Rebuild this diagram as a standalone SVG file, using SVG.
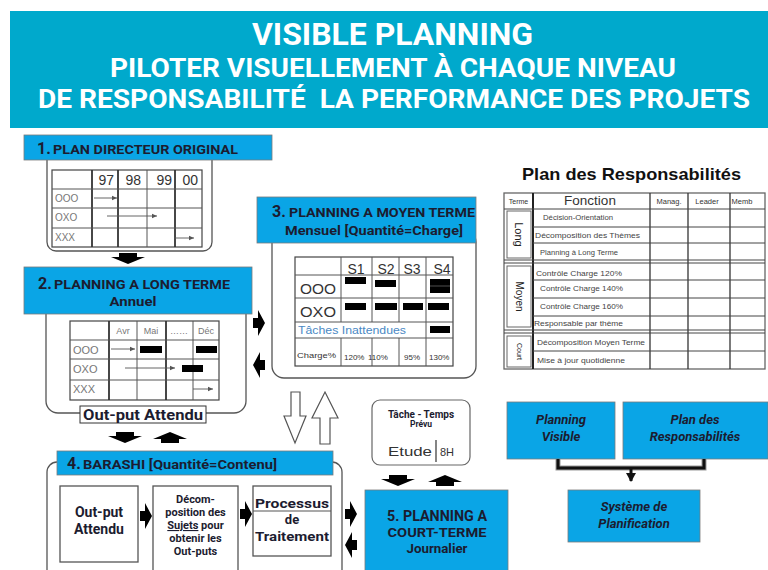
<svg xmlns="http://www.w3.org/2000/svg" width="768" height="570" viewBox="0 0 768 570">
<style>
.lbl{fill:#0AA5E6;stroke:#7a7a7a;stroke-width:0.8}
.box{fill:#fff;stroke:#555;stroke-width:1.3}
.tb{fill:none;stroke:#444;stroke-width:1.2}
.thk{stroke:#333;stroke-width:1.8}
.thn{stroke:#555;stroke-width:1}
.lt{font-family:Roboto,'Liberation Sans',sans-serif;font-weight:700;fill:#1c1c30}
.hd{font-family:Roboto,'Liberation Sans',sans-serif;font-weight:700;fill:#fff}
.sm{font-family:'Liberation Sans',Arial,sans-serif;fill:#333}
.gr{font-family:'Liberation Sans',Arial,sans-serif;fill:#777}
.rt{font-family:'Liberation Sans',Arial,sans-serif;fill:#444;font-size:7px}
.bar{fill:#000}
.al{stroke:#555;stroke-width:0.9;fill:none;marker-end:url(#ah)}
.blk{fill:#000}
.hol{fill:#fff;stroke:#555;stroke-width:1.2}
.it{font-family:Roboto,'Liberation Sans',sans-serif;font-weight:700;font-style:italic;fill:#1c1c30;font-size:13px}
</style>
<defs>
<marker id="ah" markerWidth="6" markerHeight="6" refX="5" refY="3" orient="auto" markerUnits="userSpaceOnUse"><path d="M0,0.8 L5,3 L0,5.2 Z" fill="#555"/></marker>
<marker id="ahb" markerWidth="10" markerHeight="10" refX="8" refY="5" orient="auto" markerUnits="userSpaceOnUse"><path d="M0,0 L9,5 L0,10 Z" fill="#111"/></marker>
<path id="ra" d="M0,8 H5 V0 L12,13 L5,26 V18 H0 Z"/>
<path id="la" d="M12,8 H7 V0 L0,13 L7,26 V18 H12 Z"/>
<path id="da" d="M-9,0 H9 V4 H17 L0,11 L-17,4 H-9 Z"/>
<path id="ua" d="M-9,11 H9 V7 H17 L0,0 L-17,7 H-9 Z"/>
</defs>
<rect width="768" height="570" fill="#fff"/>

<g id="header">
<rect x="10" y="11" width="758" height="117" fill="#00A9CC"/>
<text class="hd" x="392.5" y="45" font-size="32" text-anchor="middle" textLength="281" lengthAdjust="spacingAndGlyphs">VISIBLE PLANNING</text>
<text class="hd" x="393" y="77" font-size="26" text-anchor="middle" textLength="566" lengthAdjust="spacingAndGlyphs">PILOTER VISUELLEMENT À CHAQUE NIVEAU</text>
<text class="hd" x="394" y="108" font-size="26" text-anchor="middle" textLength="712" lengthAdjust="spacingAndGlyphs">DE RESPONSABILITÉ&#160; LA PERFORMANCE DES PROJETS</text>
</g>

<g id="plan-directeur">
<rect class="box" x="47" y="150" width="165" height="101" rx="9"/>
<rect class="lbl" x="24" y="135" width="248" height="25"/>
<text class="lt" x="37" y="154" font-size="16">1.</text>
<text class="lt" x="53" y="154" font-size="12.5" textLength="185" lengthAdjust="spacingAndGlyphs">PLAN DIRECTEUR ORIGINAL</text>
<rect class="tb" x="52" y="170" width="150" height="77"/>
<line class="thk" x1="92" y1="170" x2="92" y2="247"/>
<line class="thk" x1="118" y1="170" x2="118" y2="247"/>
<line class="thn" x1="147" y1="170" x2="147" y2="247"/>
<line class="thk" x1="175" y1="170" x2="175" y2="247"/>
<line class="thn" x1="52" y1="189" x2="202" y2="189"/>
<line class="thn" x1="52" y1="208" x2="202" y2="208"/>
<line class="thn" x1="52" y1="228" x2="202" y2="228"/>
<text class="sm" x="114" y="185" font-size="14" text-anchor="end">97</text>
<text class="sm" x="141" y="185" font-size="14" text-anchor="end">98</text>
<text class="sm" x="172" y="185" font-size="14" text-anchor="end">99</text>
<text class="sm" x="198" y="185" font-size="14" text-anchor="end">00</text>
<text class="gr" x="55" y="202" font-size="10">OOO</text>
<text class="gr" x="55" y="221" font-size="10">OXO</text>
<text class="gr" x="55" y="241" font-size="10">XXX</text>
<line class="al" x1="94" y1="198" x2="117" y2="198"/>
<line class="al" x1="107" y1="216" x2="157" y2="216"/>
<line class="al" x1="174" y1="238" x2="194" y2="238"/>
</g>

<g id="planning-long-terme">
<rect class="box" x="46" y="300" width="200" height="113" rx="12"/>
<rect class="lbl" x="24" y="267" width="228" height="47"/>
<text class="lt" x="38" y="289" font-size="16">2.</text>
<text class="lt" x="54" y="289" font-size="12.5" textLength="176" lengthAdjust="spacingAndGlyphs">PLANNING A LONG TERME</text>
<text class="lt" x="133" y="306" font-size="13" text-anchor="middle" textLength="47" lengthAdjust="spacingAndGlyphs">Annuel</text>
<rect class="tb" x="70" y="321" width="149" height="79"/>
<line class="thk" x1="109" y1="321" x2="109" y2="400"/>
<line class="thn" x1="137" y1="321" x2="137" y2="400"/>
<line class="thk" x1="166" y1="321" x2="166" y2="400"/>
<line class="thn" x1="193" y1="321" x2="193" y2="400"/>
<line class="thn" x1="70" y1="340" x2="219" y2="340"/>
<line class="thn" x1="70" y1="359" x2="219" y2="359"/>
<line class="thn" x1="70" y1="380" x2="219" y2="380"/>
<text class="gr" x="123" y="334" font-size="9" text-anchor="middle">Avr</text>
<text class="gr" x="151" y="334" font-size="9" text-anchor="middle">Mai</text>
<text class="gr" x="179" y="334" font-size="9" text-anchor="middle">……</text>
<text class="gr" x="206" y="334" font-size="9" text-anchor="middle">Déc</text>
<text class="gr" x="73" y="354" font-size="11">OOO</text>
<text class="gr" x="73" y="373" font-size="11">OXO</text>
<text class="gr" x="73" y="393" font-size="11">XXX</text>
<line class="al" x1="111" y1="349" x2="135" y2="349"/>
<rect class="bar" x="140" y="346" width="22" height="7"/>
<rect class="bar" x="196" y="346" width="21" height="7"/>
<line class="al" x1="125" y1="368" x2="175" y2="368"/>
<rect class="bar" x="182" y="365" width="21" height="7"/>
<line class="al" x1="193" y1="389" x2="213" y2="389"/>
<rect x="80" y="406" width="126" height="17" fill="#fff" stroke="#333" stroke-width="1"/>
<text class="lt" x="143" y="420" font-size="14" text-anchor="middle" textLength="120" lengthAdjust="spacingAndGlyphs" fill="#222">Out-put Attendu</text>
</g>

<g id="planning-moyen-terme">
<rect class="box" x="272" y="230" width="204" height="148" rx="12"/>
<rect class="lbl" x="257" y="197" width="219" height="46"/>
<text class="lt" x="272" y="217" font-size="16">3.</text>
<text class="lt" x="289" y="217" font-size="12.5" textLength="186" lengthAdjust="spacingAndGlyphs">PLANNING A MOYEN TERME</text>
<text class="lt" x="285" y="235" font-size="12.5" textLength="178" lengthAdjust="spacingAndGlyphs">Mensuel [Quantité=Charge]</text>
<rect class="tb" x="295" y="257" width="158" height="109"/>
<line class="thn" x1="341" y1="257" x2="341" y2="322"/>
<line class="thn" x1="372" y1="257" x2="372" y2="322"/>
<line class="thn" x1="399" y1="257" x2="399" y2="322"/>
<line class="thn" x1="341" y1="338" x2="341" y2="366"/>
<line class="thn" x1="372" y1="338" x2="372" y2="366"/>
<line class="thn" x1="399" y1="338" x2="399" y2="366"/>
<line class="thn" x1="426" y1="257" x2="426" y2="366"/>
<line class="thn" x1="295" y1="275" x2="453" y2="275"/>
<line class="thn" x1="295" y1="298" x2="453" y2="298"/>
<line class="thn" x1="295" y1="322" x2="453" y2="322"/>
<line class="thn" x1="295" y1="338" x2="453" y2="338"/>
<text class="sm" x="356" y="274" font-size="14" text-anchor="middle" fill="#111">S1</text>
<text class="sm" x="386" y="274" font-size="14" text-anchor="middle" fill="#111">S2</text>
<text class="sm" x="412" y="274" font-size="14" text-anchor="middle" fill="#111">S3</text>
<text class="sm" x="442" y="274" font-size="14" text-anchor="middle" fill="#111">S4</text>
<text class="sm" x="300" y="294" font-size="14" fill="#111" textLength="36" lengthAdjust="spacingAndGlyphs">OOO</text>
<text class="sm" x="300" y="317" font-size="14" fill="#111" textLength="36" lengthAdjust="spacingAndGlyphs">OXO</text>
<rect class="bar" x="345" y="277" width="21" height="7"/>
<rect class="bar" x="375" y="280" width="21" height="7"/>
<rect class="bar" x="430" y="279" width="20" height="14"/>
<line x1="430" y1="286" x2="450" y2="286" stroke="#666" stroke-width="0.8"/>
<rect class="bar" x="345" y="303" width="21" height="7"/>
<rect class="bar" x="375" y="303" width="22" height="7"/>
<rect class="bar" x="403" y="303" width="20" height="7"/>
<rect class="bar" x="428" y="303" width="21" height="7"/>
<text x="298" y="334" font-family="'Liberation Sans',Arial,sans-serif" font-size="10.5" fill="#4a88c4" textLength="108" lengthAdjust="spacingAndGlyphs">Tâches Inattendues</text>
<rect class="bar" x="430" y="326" width="20" height="7"/>
<text class="sm" x="297" y="358" font-size="8" textLength="39" lengthAdjust="spacingAndGlyphs">Charge%</text>
<text class="sm" x="344" y="360" font-size="8">120%</text>
<text class="sm" x="368" y="360" font-size="8">110%</text>
<text class="sm" x="404" y="360" font-size="8">95%</text>
<text class="sm" x="429" y="360" font-size="8">130%</text>
</g>

<g id="barashi">
<rect class="box" x="47" y="462" width="295" height="118" rx="10"/>
<rect class="lbl" x="57" y="451" width="276" height="24"/>
<text class="lt" x="67" y="469" font-size="16">4.</text>
<text class="lt" x="83" y="469" font-size="12.5" textLength="194" lengthAdjust="spacingAndGlyphs">BARASHI [Quantité=Contenu]</text>
<g id="barashi-output">
<rect x="60" y="486" width="78" height="76" fill="#fff" stroke="#555" stroke-width="1.3"/>
<text class="lt" x="99" y="517" font-size="14" text-anchor="middle" fill="#222">Out-put</text>
<text class="lt" x="99" y="534" font-size="14" text-anchor="middle" fill="#222">Attendu</text>
</g>
<g id="barashi-decomposition">
<rect x="153" y="486" width="85" height="95" fill="#fff" stroke="#555" stroke-width="1.3"/>
<text class="lt" x="195.5" y="503" font-size="11" text-anchor="middle" fill="#222">Décom-</text>
<text class="lt" x="195.5" y="516" font-size="11" text-anchor="middle" fill="#222">position des</text>
<text class="lt" x="195.5" y="529" font-size="11" text-anchor="middle" fill="#222"><tspan text-decoration="underline">Sujets</tspan> pour</text>
<text class="lt" x="195.5" y="542" font-size="11" text-anchor="middle" fill="#222">obtenir les</text>
<text class="lt" x="195.5" y="555" font-size="11" text-anchor="middle" fill="#222">Out-puts</text>
</g>
<g id="barashi-processus">
<rect x="253" y="486" width="78" height="70" fill="#fff" stroke="#555" stroke-width="1.3"/>
<line x1="253" y1="511" x2="331" y2="511" stroke="#555" stroke-width="1.2"/>
<text class="lt" x="292" y="508" font-size="13" text-anchor="middle" fill="#222" textLength="74" lengthAdjust="spacingAndGlyphs">Processus</text>
<text class="lt" x="292" y="524" font-size="13" text-anchor="middle" fill="#222">de</text>
<text class="lt" x="292" y="541" font-size="13" text-anchor="middle" fill="#222" textLength="74" lengthAdjust="spacingAndGlyphs">Traitement</text>
</g>
</g>

<g id="tache-temps">
<rect x="372" y="400" width="98" height="65" rx="8" fill="#fff" stroke="#666" stroke-width="1.2"/>
<text class="lt" x="421" y="418" font-size="10" text-anchor="middle" fill="#333">Tâche - Temps</text>
<text class="lt" x="421" y="427" font-size="8.5" text-anchor="middle" fill="#333">Prévu</text>
<text class="sm" x="388" y="456" font-size="13" fill="#222" textLength="44" lengthAdjust="spacingAndGlyphs">Etude</text>
<line x1="436" y1="440" x2="436" y2="462" stroke="#333" stroke-width="1.2"/>
<text class="sm" x="440" y="456" font-size="11" fill="#222">8H</text>
</g>

<g id="planning-court-terme">
<rect class="lbl" x="365" y="490" width="143" height="90"/>
<text class="lt" x="437" y="521" font-size="14" text-anchor="middle" textLength="100" lengthAdjust="spacingAndGlyphs">5. PLANNING A</text>
<text class="lt" x="437" y="537" font-size="13" text-anchor="middle" textLength="99" lengthAdjust="spacingAndGlyphs">COURT-TERME</text>
<text class="lt" x="437" y="553" font-size="13" text-anchor="middle" textLength="61" lengthAdjust="spacingAndGlyphs">Journalier</text>
</g>

<g id="plan-responsabilites">
<text x="631.5" y="180" font-family="'Liberation Sans',Arial,sans-serif" font-weight="700" font-size="17" fill="#111" text-anchor="middle" textLength="219" lengthAdjust="spacingAndGlyphs">Plan des Responsabilités</text>
<rect x="504" y="193" width="261" height="176" fill="#fff" stroke="#666" stroke-width="1.3"/>
<line x1="533" y1="193" x2="533" y2="369" stroke="#222" stroke-width="2"/>
<line x1="650" y1="193" x2="650" y2="369" stroke="#333" stroke-width="1.3"/>
<line x1="688" y1="193" x2="688" y2="369" stroke="#333" stroke-width="1.3"/>
<line x1="730" y1="193" x2="730" y2="369" stroke="#333" stroke-width="1.3"/>
<g stroke="#444" stroke-width="1">
<line x1="504" y1="209" x2="765" y2="209"/>
<line x1="533" y1="227" x2="765" y2="227"/>
<line x1="533" y1="243" x2="765" y2="243"/>
<line x1="504" y1="260" x2="765" y2="260"/>
<line x1="504" y1="263" x2="765" y2="263"/>
<line x1="533" y1="280" x2="765" y2="280"/>
<line x1="533" y1="298" x2="765" y2="298"/>
<line x1="533" y1="316" x2="765" y2="316"/>
<line x1="504" y1="330" x2="765" y2="330"/>
<line x1="504" y1="333" x2="765" y2="333"/>
<line x1="533" y1="351" x2="765" y2="351"/>
</g>
<rect x="507" y="211" width="24" height="47" fill="#fff" stroke="#666"/>
<rect x="507" y="266" width="24" height="61" fill="#fff" stroke="#666"/>
<rect x="507" y="336" width="24" height="31" fill="#fff" stroke="#666"/>
<text x="519" y="234.5" font-family="'Liberation Sans',Arial,sans-serif" font-size="11" fill="#222" text-anchor="middle" dominant-baseline="central" transform="rotate(90 519 234.5)">Long</text>
<text x="519" y="296.5" font-family="'Liberation Sans',Arial,sans-serif" font-size="10" fill="#222" text-anchor="middle" dominant-baseline="central" transform="rotate(90 519 296.5)">Moyen</text>
<text x="519" y="351.5" font-family="'Liberation Sans',Arial,sans-serif" font-size="7" fill="#222" text-anchor="middle" dominant-baseline="central" transform="rotate(90 519 351.5)">Court</text>
<text class="sm" x="518.5" y="204" font-size="7" text-anchor="middle">Terme</text>
<text class="sm" x="590" y="205" font-size="13.5" text-anchor="middle" fill="#111">Fonction</text>
<text class="sm" x="669" y="204" font-size="7.5" text-anchor="middle">Manag.</text>
<text class="sm" x="707" y="204" font-size="7.5" text-anchor="middle">Leader</text>
<text class="sm" x="742" y="204" font-size="7.5" text-anchor="middle">Memb</text>
<text class="rt" x="543" y="220" textLength="70" lengthAdjust="spacingAndGlyphs">Décision-Orientation</text>
<text class="rt" x="535" y="238" textLength="105" lengthAdjust="spacingAndGlyphs">Décomposition des Thèmes</text>
<text class="rt" x="540" y="255" textLength="78" lengthAdjust="spacingAndGlyphs">Planning à Long Terme</text>
<text class="rt" x="536" y="276" textLength="86" lengthAdjust="spacingAndGlyphs">Contrôle Charge 120%</text>
<text class="rt" x="540" y="291" textLength="83" lengthAdjust="spacingAndGlyphs">Contrôle Charge 140%</text>
<text class="rt" x="540" y="309" textLength="83" lengthAdjust="spacingAndGlyphs">Contrôle Charge 160%</text>
<text class="rt" x="534" y="326" textLength="89" lengthAdjust="spacingAndGlyphs">Responsable par thème</text>
<text class="rt" x="537" y="345" textLength="108" lengthAdjust="spacingAndGlyphs">Décomposition Moyen Terme</text>
<text class="rt" x="537" y="363" textLength="88" lengthAdjust="spacingAndGlyphs">Mise à jour quotidienne</text>
</g>

<g id="planning-visible">
<rect class="lbl" x="507" y="402" width="108" height="57"/>
<text class="it" x="561" y="424" text-anchor="middle">Planning</text>
<text class="it" x="561" y="441" text-anchor="middle">Visible</text>
</g>
<g id="plan-des-responsabilites-box">
<rect class="lbl" x="623" y="402" width="145" height="57"/>
<text class="it" x="695" y="424" text-anchor="middle">Plan des</text>
<text class="it" x="695" y="441" text-anchor="middle">Responsabilités</text>
</g>
<g id="systeme-planification">
<rect class="lbl" x="568" y="490" width="132" height="52"/>
<text class="it" x="634" y="511" text-anchor="middle">Système de</text>
<text class="it" x="634" y="528" text-anchor="middle">Planification</text>
</g>

<g id="connectors">
<use href="#da" x="128" y="253" class="blk"/>
<use href="#ra" x="253" y="310" class="blk"/>
<use href="#la" x="253" y="352" class="blk"/>
<use href="#da" x="125" y="432" class="blk"/>
<use href="#ua" x="170" y="432" class="blk"/>
<polygon class="hol" points="291,392 300,392 300,416 306,416 295,443 284,416 291,416"/>
<polygon class="hol" points="320,444 330,444 330,418 338,418 325,392 312,418 320,418"/>
<use href="#da" x="398" y="475" class="blk"/>
<use href="#ua" x="445" y="475" class="blk"/>
<use href="#ra" x="140" y="503" class="blk"/>
<use href="#ra" x="240" y="501" class="blk"/>
<use href="#ra" x="345" y="501" class="blk"/>
<use href="#la" x="345" y="532" class="blk"/>
<path d="M558,459 V468 H704 V459" fill="none" stroke="#999" stroke-width="5"/>
<path d="M558,459 V468 H704 V459" fill="none" stroke="#111" stroke-width="3"/>
<path d="M631,468 V481" fill="none" stroke="#111" stroke-width="3" marker-end="url(#ahb)"/>
</g>
</svg>
